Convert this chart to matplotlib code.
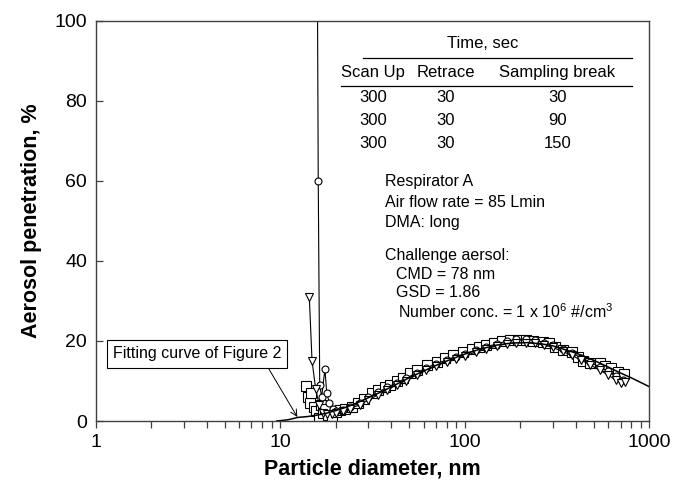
import numpy as np
import matplotlib
matplotlib.use('Agg')
import matplotlib.pyplot as plt
from matplotlib.ticker import FixedLocator, FixedFormatter, NullFormatter, LogLocator

plt.rcParams['font.family'] = ['Liberation Sans', 'DejaVu Sans']
plt.rcParams['mathtext.default'] = 'regular'

# fitting curve of Figure 2
fit_d = [9.6, 11, 12.5, 14, 16, 18, 20, 23, 26, 30, 35, 40, 50, 60, 70, 80, 100, 120, 150,
         180, 220, 260, 300, 400, 500, 600, 700, 800, 1000]
fit_p = [0.0, 0.3, 0.9, 1.1, 1.5, 2.0, 2.6, 3.5, 4.5, 5.8, 7.2, 8.5, 10.8, 12.5, 13.9, 15.0,
         16.7, 17.9, 19.0, 19.5, 19.6, 19.3, 18.8, 17.0, 15.2, 13.5, 12.0, 10.8, 8.6]

# sampling break 30 s (squares)
sq_d = [13.9, 14.2, 14.5, 14.8, 15.2, 15.6, 16.2, 16.6, 17.0, 17.5, 18.2, 19.1, 20.0, 21.0,
        22.5, 24.5, 26.5, 28.5, 31.3, 34.0, 37.0, 39.4, 43.0, 46.6, 50.5, 55.0, 62.5, 70.5,
        78.0, 87.0, 98.5, 110, 120, 131, 145, 160, 176, 195, 215, 235, 265, 285, 310, 340,
        380, 410, 437, 480, 539, 580, 625, 680, 728]
sq_p = [8.7, 6.0, 4.5, 7.0, 3.5, 2.5, 0.8, 4.0, 2.0, 3.0, 1.5, 1.3, 2.2, 2.75,
        3.0, 3.6, 4.5, 5.5, 6.9, 7.8, 8.6, 9.0, 10.0, 10.7, 11.9, 12.8, 14.0, 14.8,
        15.8, 16.5, 17.2, 17.9, 18.4, 19.0, 19.6, 20.1, 20.2, 20.3, 20.2, 20.1, 19.8, 19.4, 18.5, 17.8,
        17.3, 16.0, 15.0, 14.6, 14.5, 13.8, 13.2, 12.2, 11.7]

# sampling break 90 s (circles)
ci_d = [15.8, 16.1, 16.4, 16.8, 17.5, 17.9, 18.5, 19.3, 20.2, 22, 24, 27, 30, 34, 38, 43, 48,
        55, 62, 70, 80, 90, 100, 115, 130, 150, 170, 190, 215, 240, 270, 300, 340, 380, 430,
        480, 540, 600, 660, 720]
ci_p = [150, 60, 9.0, 6.0, 13.0, 7.0, 4.5, 3.0, 2.6, 2.8, 3.4, 4.6, 5.9, 7.2, 8.4, 9.6, 10.7,
        12.0, 13.3, 14.3, 15.3, 16.1, 16.8, 17.7, 18.5, 19.3, 20.0, 20.4, 20.5, 20.2, 19.6, 18.9,
        18.0, 17.0, 15.8, 14.7, 13.5, 12.4, 11.2, 10.2]

# sampling break 150 s (triangles)
tr_d = [14.4, 14.9, 15.6, 16.3, 17.0, 18.0, 19.0, 20, 22, 24, 27, 30, 34, 38, 43, 48, 55, 62,
        70, 80, 90, 100, 115, 130, 150, 170, 190, 215, 240, 270, 300, 340, 380, 430, 480, 540,
        600, 660, 700, 740]
tr_p = [31, 15, 8, 4, 2.0, 1.8, 1.8, 2.0, 2.5, 3.1, 4.1, 5.2, 6.6, 7.8, 9.0, 10.1, 11.5, 12.7,
        13.8, 14.8, 15.6, 16.3, 17.2, 18.0, 18.8, 19.3, 19.6, 19.6, 19.4, 19.0, 18.4, 17.4, 16.4,
        15.2, 14.0, 12.7, 11.5, 10.2, 9.4, 9.8]

tbl_head = ['Scan Up', 'Retrace', 'Sampling break']
tbl_scan = ['300', '300', '300']
tbl_retrace = ['30', '30', '30']
tbl_break = ['30', '90', '150']

fig = plt.figure(figsize=(6.73, 4.87), dpi=100)
ax = fig.add_axes([0.142, 0.1355, 0.8225, 0.8215])

mk = dict(color='black', lw=0.8, markerfacecolor='white', markeredgecolor='black', markeredgewidth=0.8)
ax.plot(sq_d, sq_p, marker='s', markersize=6.5, **mk)
ax.plot(ci_d, ci_p, marker='o', markersize=5, **mk)
ax.plot(tr_d, tr_p, marker='v', markersize=5.5, **mk)
ax.plot(fit_d, fit_p, color='black', lw=1.1)

ax.set_xscale('log')
ax.set_xlim(1, 1000)
ax.set_ylim(0, 100)
ax.xaxis.set_major_locator(FixedLocator([1, 10, 100, 1000]))
ax.xaxis.set_major_formatter(FixedFormatter(['1', '10', '100', '1000']))
ax.xaxis.set_minor_locator(LogLocator(base=10, subs=np.arange(2, 10)))
ax.xaxis.set_minor_formatter(NullFormatter())
ax.set_yticks([0, 20, 40, 60, 80, 100])

ax.tick_params(axis='x', which='both', direction='out', length=5, width=0.9, colors='#404040',
               labelcolor='black', labelsize=14, pad=4)
ax.tick_params(axis='y', which='both', direction='in', length=5, width=0.9, colors='#404040',
               labelcolor='black', labelsize=14, pad=6)
for s in ax.spines.values():
    s.set_color('#404040')
    s.set_linewidth(1.0)

ax.set_xlabel('Particle diameter, nm', fontsize=15.5, fontweight='bold', labelpad=6)
ax.set_ylabel('Aerosol penetration, %', fontsize=15.5, fontweight='bold', labelpad=9)

# table
tr = ax.transAxes
tfs = 12
ax.text(0.700, 0.9425, 'Time, sec', transform=tr, ha='center', va='center', fontsize=tfs)
ax.plot([0.483, 0.969], [0.9075, 0.9075], transform=tr, color='black', lw=0.9)
ax.plot([0.443, 0.969], [0.8375, 0.8375], transform=tr, color='black', lw=0.9)
col_x = [0.501, 0.633, 0.834]
for x, h in zip(col_x, tbl_head):
    ax.text(x, 0.872, h, transform=tr, ha='center', va='center', fontsize=tfs)
row_y = [0.8075, 0.75, 0.6925]
for i, y in enumerate(row_y):
    ax.text(col_x[0], y, tbl_scan[i], transform=tr, ha='center', va='center', fontsize=tfs)
    ax.text(col_x[1], y, tbl_retrace[i], transform=tr, ha='center', va='center', fontsize=tfs)
    ax.text(col_x[2], y, tbl_break[i], transform=tr, ha='center', va='center', fontsize=tfs)

# condition notes
notes = [(0.523, 0.5975, 'Respirator A'),
         (0.523, 0.545, 'Air flow rate = 85 Lmin'),
         (0.523, 0.495, 'DMA: long'),
         (0.523, 0.4125, 'Challenge aersol:'),
         (0.543, 0.365, 'CMD = 78 nm'),
         (0.543, 0.32, 'GSD = 1.86'),
         (0.547, 0.273, 'Number conc. = 1 x 10$^{6}$ #/cm$^{3}$')]
for x, y, s in notes:
    ax.text(x, y, s, transform=tr, ha='left', va='center', fontsize=11.5)

ax.annotate('Fitting curve of Figure 2', xy=(12.4, 1.0), xytext=(3.55, 16.75),
            ha='center', va='center', fontsize=11.5,
            bbox=dict(boxstyle='square,pad=0.38', fc='white', ec='black', lw=0.8),
            arrowprops=dict(arrowstyle='->', color='black', lw=0.7, relpos=(0.9, 0.0),
                            shrinkA=0, shrinkB=0))

fig.savefig('out.png', dpi=100)
